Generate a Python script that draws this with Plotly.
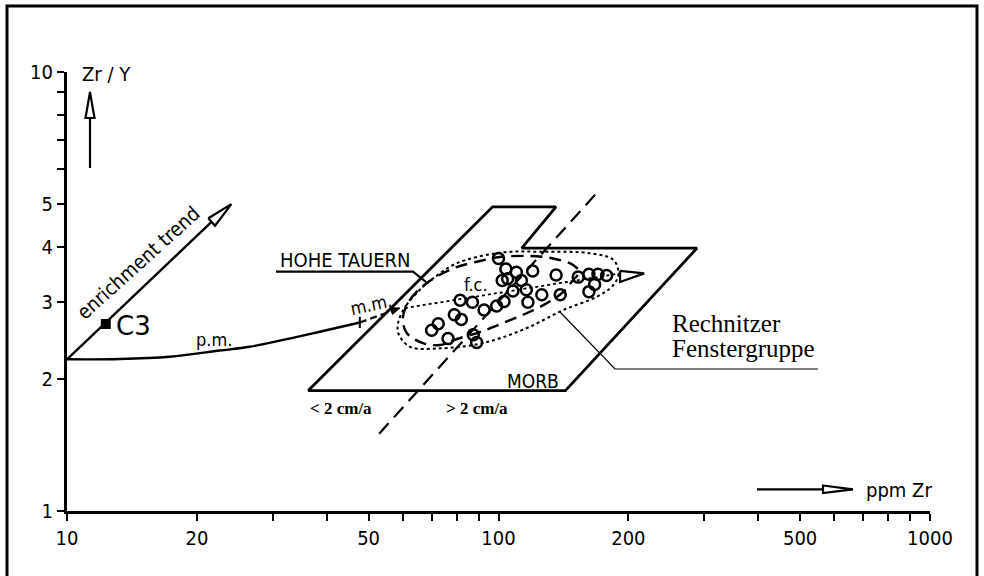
import plotly.graph_objects as go

# ---------------- data ----------------
x_tickvals = [10, 20, 30, 40, 50, 60, 70, 80, 90, 100, 200, 300, 400, 500, 600, 700, 800, 900, 1000]
x_ticktext = ['10', '20', '', '', '50', '', '', '', '', '100', '200', '', '', '500', '', '', '', '', '1000']
y_tickvals = [1, 2, 3, 4, 5, 6, 7, 8, 9, 10]
y_ticktext = ['1', '2', '3', '4', '5', '', '', '', '', '10']

# Rechnitzer Fenstergruppe samples: Zr (ppm) and Zr/Y
sample_zr = [100, 104, 110, 120, 136, 153, 162, 170, 178, 167, 162,
             102, 105, 113, 108, 116, 117, 126, 139,
             81.5, 87, 92.6, 99, 103, 79, 82, 70, 72.5, 76.4, 87.4, 89]
sample_zry = [3.76, 3.56, 3.50, 3.52, 3.45, 3.41, 3.46, 3.46, 3.44, 3.28, 3.16,
              3.35, 3.38, 3.35, 3.17, 3.19, 2.99, 3.11, 3.11,
              3.02, 2.99, 2.87, 2.93, 3.00, 2.80, 2.73, 2.58, 2.67, 2.47, 2.52, 2.42]

# MORB / Hohe Tauern field outline
field_zr = [36.2, 96.9, 135.9, 113.2, 288.4, 142.9, 36.2]
field_zry = [1.88, 4.93, 4.93, 3.97, 3.97, 1.88, 1.88]

# spreading-rate divider (< 2 cm/a | > 2 cm/a)
divider_zr = [52.9, 167.4]
divider_zry = [1.50, 5.25]

# enrichment trend from primitive mantle
enrich_zr = [10.0, 21.6]
enrich_zry = [2.216, 4.55]
enrich_head_zr = [21.26, 24.04, 22.03, 21.26]
enrich_head_zry = [4.643, 5.00, 4.466, 4.643]
c3_zr = [12.3]
c3_zry = [2.667]

# partial melting curve (p.m.) and mantle melting (m.m.)
pm_zr = [10.0, 13.24, 17.29, 22.59, 26.51, 31.12, 38.54, 47.71]
pm_zry = [2.216, 2.219, 2.246, 2.320, 2.367, 2.443, 2.561, 2.688]
mm_zr = [47.71, 56.5]
mm_zry = [2.688, 2.853]
mm_head_zr = [56.8, 59.1, 56.1, 56.8]
mm_head_zry = [2.804, 2.900, 2.904, 2.804]

# fractional crystallisation (f.c.) trend
fc_zr = [60.7, 190.4]
fc_zry = [2.900, 3.475]
fc_head_zr = [191.3, 217.6, 191.3, 191.3]
fc_head_zry = [3.523, 3.477, 3.323, 3.523]

# dashed field (f.c. trend envelope)
dash_zr = [60.0, 62.3, 68.1, 78.4, 90.6, 100.8, 118.3, 133.8, 148.9, 153.8, 148.9,
           141.2, 129.6, 116.5, 102.4, 90.6, 80.1, 73.2, 66.8, 61.3, 60.0]
dash_zry = [2.752, 3.024, 3.302, 3.568, 3.711, 3.790, 3.810, 3.760, 3.634, 3.502, 3.358,
            3.154, 2.977, 2.825, 2.681, 2.557, 2.465, 2.388, 2.413, 2.544, 2.752]

# dotted field (Rechnitzer Fenstergruppe)
dot_zr = [58.6, 61.2, 66.9, 70.6, 80.0, 100.8, 124.8, 163.1, 184.7, 189.7, 184.7,
          169.0, 141.4, 118.3, 100.8, 87.4, 73.2, 62.3, 58.6, 58.6]
dot_zry = [2.695, 2.946, 3.244, 3.389, 3.666, 3.876, 3.896, 3.864, 3.731, 3.478, 3.272,
           3.077, 2.870, 2.630, 2.474, 2.388, 2.347, 2.367, 2.540, 2.695]

# ---------------- layout helpers ----------------
L, R, T, B = 67, 54, 72, 65
W, H = 984, 576
PW, PH = W - L - R, H - T - B


def pp(px, py):
    return (px - L) / PW, (H - B - py) / PH


def path(points, close=False):
    s = ''
    for i, (px, py) in enumerate(points):
        x, y = pp(px, py)
        s += ('M' if i == 0 else 'L') + f'{x:.5f},{y:.5f} '
    if close:
        s += 'Z'
    return s


DIN = 'DejaVu Sans Condensed, DejaVu Sans, sans-serif'
SERIF = 'Liberation Serif, Times New Roman, serif'
K = 'black'

fig = go.Figure()


def line(x, y, width=2.4, dash='solid', shape='linear', fill=None):
    fig.add_trace(go.Scatter(x=x, y=y, mode='lines', hoverinfo='skip',
                             line=dict(color=K, width=width, dash=dash, shape=shape),
                             fill=fill, fillcolor='white' if fill else None))


line(field_zr, field_zry, width=2.8)
line(divider_zr, divider_zry, width=2.2, dash='14px,8px')
line(dot_zr, dot_zry, width=2, dash='dot', shape='spline')
line(dash_zr, dash_zry, width=2.4, dash='12px,7px', shape='spline')
line(fc_zr, fc_zry, width=1.8, dash='dot')
line(fc_head_zr, fc_head_zry, width=2.2, fill='toself')
line(enrich_zr, enrich_zry, width=2.4)
line(enrich_head_zr, enrich_head_zry, width=2.2, fill='toself')
line(pm_zr, pm_zry, width=2.4, shape='spline')
line(mm_zr, mm_zry, width=2.2, dash='7px,4px')
fig.add_trace(go.Scatter(x=mm_head_zr, y=mm_head_zry, mode='lines', fill='toself',
                         fillcolor=K, line=dict(color=K, width=1), hoverinfo='skip'))
fig.add_trace(go.Scatter(x=[pm_zr[-1]], y=[pm_zry[-1]], mode='markers', hoverinfo='skip',
                         marker=dict(symbol='line-ns', size=8, line=dict(color=K, width=2))))
fig.add_trace(go.Scatter(x=c3_zr, y=c3_zry, mode='markers', hoverinfo='skip',
                         marker=dict(symbol='square', size=10, color=K)))
fig.add_trace(go.Scatter(x=sample_zr, y=sample_zry, mode='markers', hoverinfo='skip',
                         marker=dict(symbol='circle-open', size=11, color=K,
                                     line=dict(color=K, width=2.5))))

shapes = []
# frame
shapes.append(dict(type='path', xref='paper', yref='paper',
                   path=path([(7, 580), (7, 6), (977, 6), (977, 580)]),
                   line=dict(color=K, width=3)))
# Zr/Y arrow
shapes.append(dict(type='path', xref='paper', yref='paper',
                   path=path([(90, 168), (90, 118)]), line=dict(color=K, width=2.2)))
shapes.append(dict(type='path', xref='paper', yref='paper',
                   path=path([(85.5, 118), (90, 92), (94.5, 118)], close=True),
                   line=dict(color=K, width=2.2), fillcolor='white'))
# ppm Zr arrow
shapes.append(dict(type='path', xref='paper', yref='paper',
                   path=path([(757, 489.3), (823, 489.3)]), line=dict(color=K, width=2.2)))
shapes.append(dict(type='path', xref='paper', yref='paper',
                   path=path([(823, 485.5), (853, 489.3), (823, 493)], close=True),
                   line=dict(color=K, width=2.2), fillcolor='white'))
# HOHE TAUERN underline + leader
shapes.append(dict(type='path', xref='paper', yref='paper',
                   path=path([(276, 271.7), (413, 271.7), (426, 282)]),
                   line=dict(color=K, width=2.2)))
# Rechnitzer leader
shapes.append(dict(type='path', xref='paper', yref='paper',
                   path=path([(560, 312), (615, 369), (818, 369)]),
                   line=dict(color=K, width=1.2)))
fig.update_layout(shapes=shapes)


def label(text, px, py, size=17, font=DIN, angle=0, xanchor='center'):
    x, y = pp(px, py)
    fig.add_annotation(x=x, y=y, xref='paper', yref='paper', text=text, showarrow=False,
                       textangle=angle, xanchor=xanchor, yanchor='middle', borderpad=0,
                       font=dict(family=font, size=size, color=K))


label('Zr / Y', 106, 74, 20)
label('ppm Zr', 899, 490, 20)
label('enrichment trend', 138, 263, 20, angle=-42)
label('C3', 133, 326, 26, font='DejaVu Sans, sans-serif')
label('p.m.', 214, 339, 18)
label('m.m.', 371, 304, 18, angle=-12)
label('f.c.', 476, 284, 18)
label('HOHE TAUERN', 345, 260, 20)
label('MORB', 533, 381, 19)
label('<b>&lt; 2 cm/a</b>', 341, 408, 17, font=SERIF)
label('<b>&gt; 2 cm/a</b>', 477, 408, 17, font=SERIF)
label('Rechnitzer', 671, 323, 25, font=SERIF, xanchor='left')
label('Fenstergruppe', 671, 349, 25, font=SERIF, xanchor='left')

axis_common = dict(showgrid=False, zeroline=False, showline=True, linecolor=K, linewidth=3,
                   ticks='outside', ticklen=7, tickwidth=2, tickcolor=K, mirror=False,
                   tickfont=dict(family=DIN, size=20, color=K))
fig.update_xaxes(type='log', range=[1, 3], tickmode='array', tickvals=x_tickvals,
                 ticktext=x_ticktext, **axis_common)
fig.update_yaxes(type='log', range=[0, 1], tickmode='array', tickvals=y_tickvals,
                 ticktext=y_ticktext, **axis_common)
fig.update_layout(width=W, height=H, autosize=False, showlegend=False,
                  margin=dict(l=L, r=R, t=T, b=B, pad=0),
                  paper_bgcolor='white', plot_bgcolor='white')
fig.write_html('out.html', config={'displayModeBar': False})

# remove the browser's default page margin so the figure sits at the window origin
with open('out.html', 'r', encoding='utf-8') as f:
    html = f.read()
html = html.replace('<head>', '<head><style>html,body{margin:0;padding:0;overflow:hidden;}</style>', 1)
with open('out.html', 'w', encoding='utf-8') as f:
    f.write(html)
